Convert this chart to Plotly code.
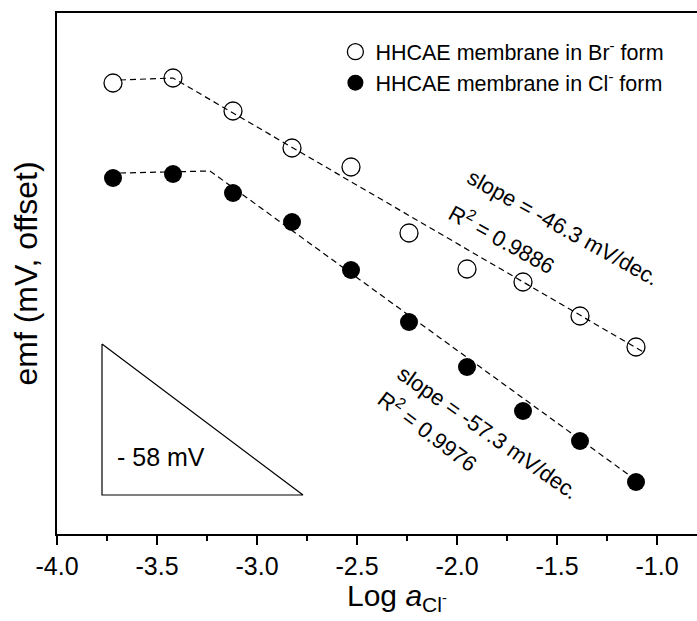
import plotly.graph_objects as go

# Data (x: log a_Cl-, y: emf in mV, arbitrary offset)
log_a = [-3.72, -3.42, -3.12, -2.825, -2.53, -2.24, -1.95, -1.67, -1.385, -1.105]
emf_br = [180.4, 182.4, 169.2, 154.4, 146.8, 120.4, 106.0, 100.8, 87.2, 74.8]
emf_cl = [142.4, 144.0, 136.4, 124.8, 105.6, 84.8, 66.8, 49.2, 37.2, 20.8]

# dashed guide/fit polylines
fit_br_x = [-3.685, -3.42, -1.06]
fit_br_y = [181.6, 182.4, 72.4]
fit_cl_x = [-3.685, -3.235, -1.085]
fit_cl_y = [144.4, 145.2, 20.4]

# reference triangle (-58 mV per decade)
tri_x = [-3.775, -3.775, -2.77, -3.775]
tri_y = [76.0, 15.6, 15.6, 76.0]

FONT = "Liberation Sans, Arial, sans-serif"

fig = go.Figure()
dash = "6px,4px"
fig.add_trace(go.Scatter(x=fit_br_x, y=fit_br_y, mode="lines",
                         line=dict(color="black", width=1.2, dash=dash),
                         showlegend=False, hoverinfo="skip"))
fig.add_trace(go.Scatter(x=fit_cl_x, y=fit_cl_y, mode="lines",
                         line=dict(color="black", width=1.2, dash=dash),
                         showlegend=False, hoverinfo="skip"))
fig.add_trace(go.Scatter(x=tri_x, y=tri_y, mode="lines",
                         line=dict(color="black", width=1.2),
                         showlegend=False, hoverinfo="skip"))
fig.add_trace(go.Scatter(x=log_a, y=emf_br, mode="markers",
                         name="HHCAE membrane in Br<sup>-</sup> form",
                         marker=dict(symbol="circle-open", size=18, color="black",
                                     line=dict(width=1.3, color="black"))))
fig.add_trace(go.Scatter(x=log_a, y=emf_cl, mode="markers",
                         name="HHCAE membrane in Cl<sup>-</sup> form",
                         marker=dict(symbol="circle", size=18, color="black")))

ann_font = dict(family=FONT, size=22, color="black")
fig.add_annotation(x=-1.47, y=122.8, text="slope = -46.3 mV/dec.", showarrow=False,
                   textangle=29, font=ann_font)
fig.add_annotation(x=-1.775, y=118.4, text="R<sup>2</sup> = 0.9886", showarrow=False,
                   textangle=29, font=ann_font)
fig.add_annotation(x=-1.845, y=40.8, text="slope = -57.3 mV/dec.", showarrow=False,
                   textangle=35, font=ann_font)
fig.add_annotation(x=-2.145, y=41.6, text="R<sup>2</sup> = 0.9976", showarrow=False,
                   textangle=37, font=ann_font)
fig.add_annotation(x=-3.48, y=30.8, text="- 58 mV", showarrow=False,
                   font=dict(family=FONT, size=25, color="black"))

# x-axis title (the original plot frame extends past the right edge of the image)
fig.add_annotation(xref="paper", yref="paper", x=0.531, y=-0.121,
                   xanchor="center", yanchor="middle", showarrow=False,
                   text="Log <i>a</i><sub>Cl<sup>-</sup></sub>",
                   font=dict(family=FONT, size=30, color="black"))

fig.update_layout(
    width=697, height=621,
    margin=dict(l=57, r=0, t=13, b=87),
    plot_bgcolor="white", paper_bgcolor="white",
    font=dict(family=FONT, color="black"),
    legend=dict(x=0.435, y=0.965, xanchor="left", yanchor="top",
                font=dict(family=FONT, size=21.5), bgcolor="rgba(0,0,0,0)",
                tracegroupgap=0),
    xaxis=dict(range=[-4.0, -0.8], showline=True, linecolor="black", linewidth=2,
               mirror=True, ticks="outside", ticklen=9, tickwidth=1.5,
               tickcolor="black", tickvals=[-4.0, -3.5, -3.0, -2.5, -2.0, -1.5, -1.0],
               ticktext=["-4.0", "-3.5", "-3.0", "-2.5", "-2.0", "-1.5", "-1.0"],
               tickfont=dict(family=FONT, size=25),
               minor=dict(dtick=0.25, ticks="outside", ticklen=5, tickwidth=1.5,
                          tickcolor="black", showgrid=False),
               showgrid=False, zeroline=False),
    yaxis=dict(range=[0, 208.4], showline=True, linecolor="black", linewidth=2,
               mirror=False, showticklabels=False, ticks="", showgrid=False,
               zeroline=False,
               title=dict(text="emf (mV, offset)", font=dict(family=FONT, size=32),
                          standoff=8)),
)

fig.write_html("out.html")
